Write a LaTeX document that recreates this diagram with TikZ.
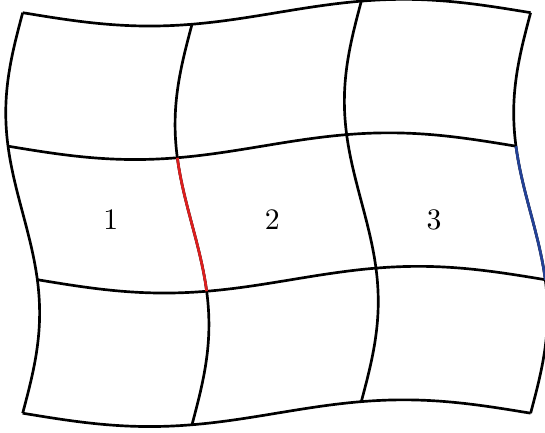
\documentclass[tikz,border=0pt]{standalone}
\usepackage{tikz}
\definecolor{edgered}{RGB}{220,30,30}
\definecolor{edgeblue}{RGB}{35,65,150}

\begin{document}
\begin{tikzpicture}[x=2cm,y=1.577cm, gridline/.style={line width=0.9pt,smooth,samples=40}, cell/.style={inner sep=1pt}]
\useasboundingbox (-0.134,-0.141) rectangle (3.085,3.095);
% columns of the warped grid
\foreach \i in {0,...,3}
  \draw[gridline] plot[domain=0:3,variable=\t] ({\i+0.1*sin(120*\t)},{\t-0.1*sin(120*\i)});
% rows of the warped grid
\foreach \j in {0,...,3}
  \draw[gridline] plot[domain=0:3,variable=\t] ({\t+0.1*sin(120*\j)},{\j-0.1*sin(120*\t)});
% marked edges
\draw[gridline,edgered] plot[domain=1:2,variable=\t] ({1+0.1*sin(120*\t)},{\t-0.1*sin(120)});
\draw[gridline,edgeblue] plot[domain=1:2,variable=\t] ({3+0.1*sin(120*\t)},{\t-0.1*sin(360)});
% cell labels
\node[cell] (c1) at (0.52,1.45) {1};
\node[cell] (c2) at (1.475,1.45) {2};
\node[cell] (c3) at (2.43,1.45) {3};
\end{tikzpicture}
\end{document}
